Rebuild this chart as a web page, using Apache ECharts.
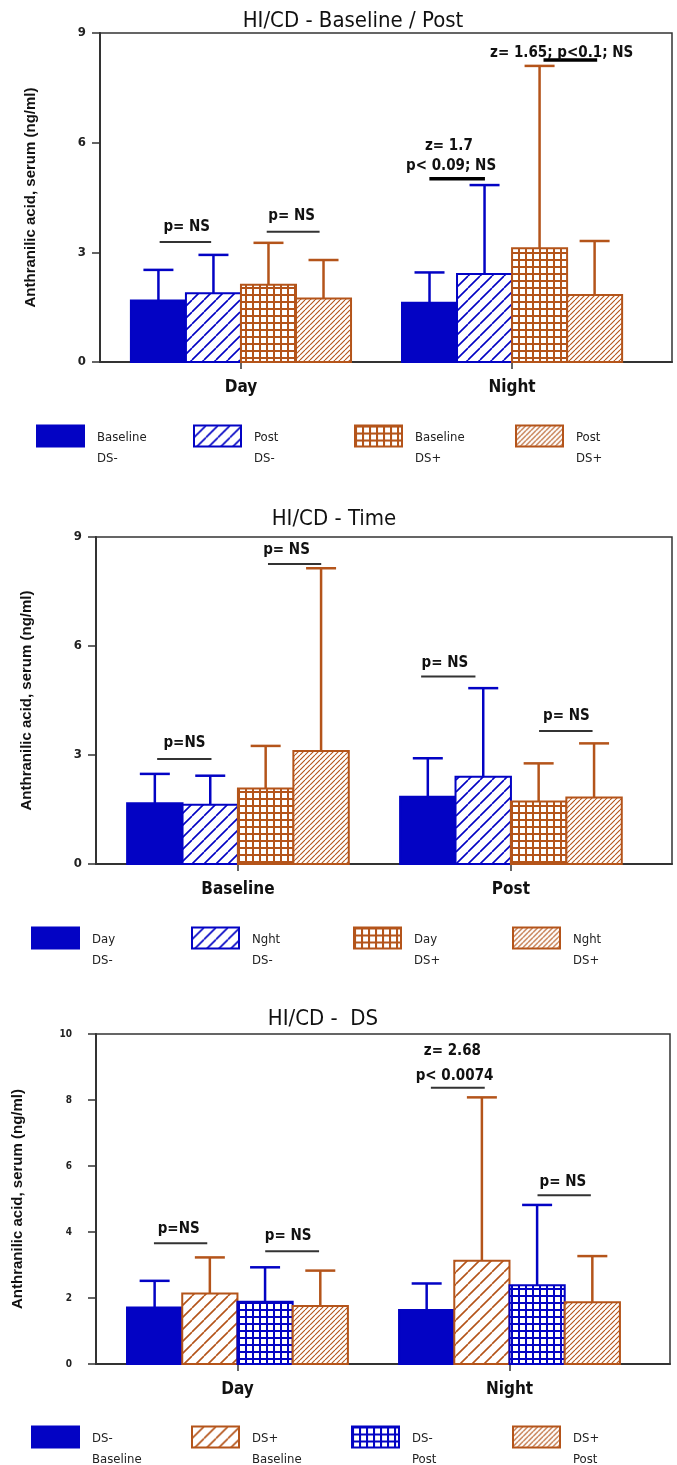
<!DOCTYPE html>
<html>
<head>
<meta charset="utf-8">
<script src="https://cdn.jsdelivr.net/npm/echarts@6/dist/echarts.min.js"></script>
<style>
html, body { margin: 0; padding: 0; background: #fff; }
#chart { width: 677px; height: 1465px; }
</style>
</head>
<body>
<div id="chart"></div>
<script>
// ---- data (ng/ml) ----
var dayNight = ['Day', 'Night'];
var basePost = ['Baseline', 'Post'];

// panel 1: HI/CD - Baseline / Post   (each row = one series, [Day, Night])
var p1Names = ['Baseline\nDS-', 'Post\nDS-', 'Baseline\nDS+', 'Post\nDS+'];
var p1Mean = [[1.68, 1.62], [1.88, 2.41], [2.11, 3.11], [1.74, 1.83]];
var p1Upper = [[2.52, 2.45], [2.93, 4.84], [3.26, 8.10], [2.79, 3.31]];
// significance bars: [from, to, level, thick]
var p1Bars = [[-0.30, -0.11, 3.28, 0], [0.095, 0.29, 3.56, 0], [0.695, 0.90, 5.01, 1], [1.116, 1.314, 8.26, 1]];
var p1Notes = [[-0.20, 3.70, 'p= NS'], [0.187, 3.99, 'p= NS'], [0.767, 5.90, 'z= 1.7'],
               [0.775, 5.35, 'p< 0.09; NS'], [1.183, 8.46, 'z= 1.65; p<0.1; NS']];

// panel 2: HI/CD - Time   ([Baseline, Post])
var p2Names = ['Day\nDS-', 'Nght\nDS-', 'Day\nDS+', 'Nght\nDS+'];
var p2Mean = [[1.67, 1.85], [1.63, 2.40], [2.08, 1.72], [3.11, 1.83]];
var p2Upper = [[2.48, 2.91], [2.43, 4.84], [3.25, 2.77], [8.14, 3.32]];
var p2Bars = [[-0.296, -0.097, 2.89, 0], [0.11, 0.305, 8.26, 0], [0.671, 0.87, 5.16, 0], [1.103, 1.299, 3.66, 0]];
var p2Notes = [[-0.196, 3.32, 'p=NS'], [0.178, 8.64, 'p= NS'], [0.758, 5.54, 'p= NS'], [1.203, 4.07, 'p= NS']];

// panel 3: HI/CD - DS   ([Day, Night])
var p3Names = ['DS-\nBaseline', 'DS+\nBaseline', 'DS-\nPost', 'DS+\nPost'];
var p3Mean = [[1.71, 1.64], [2.14, 3.13], [1.89, 2.39], [1.76, 1.87]];
var p3Upper = [[2.52, 2.44], [3.23, 8.08], [2.93, 4.82], [2.83, 3.27]];
var p3Bars = [[-0.307, -0.111, 3.66, 0], [0.102, 0.30, 3.42, 0], [0.711, 0.909, 8.37, 0], [1.103, 1.299, 5.11, 0]];
var p3Notes = [[-0.216, 4.08, 'p=NS'], [0.186, 3.88, 'p= NS'], [0.79, 9.49, 'z= 2.68'],
               [0.798, 8.71, 'p< 0.0074'], [1.196, 5.52, 'p= NS']];

var yName = 'Anthranilic acid, serum (ng/ml)';

// ---- styles ----
var BLUE = '#0303c4';
var ORANGE = '#b4541a';
var NARROW = "'Liberation Sans Narrow', 'DejaVu Sans Condensed', 'Arial Narrow', sans-serif";
var WIDE = "'Liberation Sans', Arial, sans-serif";
var BAR_W = 0.203;
var CAP = 15;

function hatch(color, step, lw) {
	var c = document.createElement('canvas');
	c.width = c.height = step;
	var g = c.getContext('2d');
	g.fillStyle = '#fff';
	g.fillRect(0, 0, step, step);
	g.strokeStyle = color;
	g.lineWidth = lw;
	g.beginPath();
	for (var k = -1; k <= 1; k++) {
		g.moveTo(k * step, step);
		g.lineTo(k * step + step, 0);
	}
	g.stroke();
	return {image: c, repeat: 'repeat'};
}
function squares(color, step, lw) {
	var c = document.createElement('canvas');
	c.width = c.height = step;
	var g = c.getContext('2d');
	g.fillStyle = '#fff';
	g.fillRect(0, 0, step, step);
	g.fillStyle = color;
	g.fillRect(0, 0, step, lw);
	g.fillRect(0, 0, lw, step);
	return {image: c, repeat: 'repeat'};
}

var solidBlue = BLUE;
var wideBlue = hatch(BLUE, 12, 1.6);
var wideOrange = hatch(ORANGE, 12, 1.6);
var gridOrange = squares(ORANGE, 7, 2);
var gridBlue = squares(BLUE, 7, 2);
var fineOrange = hatch(ORANGE, 5, 1.1);

var panels = [
	{cats: dayNight, names: p1Names, mean: p1Mean, upper: p1Upper, bars: p1Bars, notes: p1Notes,
	 fills: [solidBlue, wideBlue, gridOrange, fineOrange], strokes: [BLUE, BLUE, ORANGE, ORANGE],
	 title: 'HI/CD - Baseline / Post', titleX: 353, titleY: 21,
	 left: 100, top: 33, height: 329, right: 5, yMax: 9, yStep: 3, labelSize: 13, labelMargin: 14, nameGap: 62,
	 legendTop: 403, legendLeft: [36, 193, 354, 515]},
	{cats: basePost, names: p2Names, mean: p2Mean, upper: p2Upper, bars: p2Bars, notes: p2Notes,
	 fills: [solidBlue, wideBlue, gridOrange, fineOrange], strokes: [BLUE, BLUE, ORANGE, ORANGE],
	 title: 'HI/CD - Time', titleX: 334, titleY: 519,
	 left: 96, top: 537, height: 327, right: 5, yMax: 9, yStep: 3, labelSize: 13, labelMargin: 14, nameGap: 62,
	 legendTop: 905, legendLeft: [31, 191, 353, 512]},
	{cats: dayNight, names: p3Names, mean: p3Mean, upper: p3Upper, bars: p3Bars, notes: p3Notes,
	 fills: [solidBlue, wideOrange, gridBlue, fineOrange], strokes: [BLUE, ORANGE, BLUE, ORANGE],
	 title: 'HI/CD -  DS', titleX: 323, titleY: 1019,
	 left: 96, top: 1034, height: 330, right: 7, yMax: 10, yStep: 2, labelSize: 10, labelMargin: 24, nameGap: 71,
	 legendTop: 1404, legendLeft: [31, 191, 351, 512]}
];

function barItem(slot, fill, stroke) {
	return function (params, api) {
		var c = api.value(0) + (slot - 1.5) * BAR_W;
		var a = api.coord([c - BAR_W / 2, 0]);
		var b = api.coord([c + BAR_W / 2, api.value(1)]);
		var e = api.coord([c, api.value(2)]);
		var mid = (a[0] + b[0]) / 2;
		return {
			type: 'group',
			children: [
				{type: 'line', shape: {x1: mid, y1: b[1], x2: mid, y2: e[1]}, style: {stroke: stroke, lineWidth: 2.5}},
				{type: 'line', shape: {x1: mid - CAP, y1: e[1], x2: mid + CAP, y2: e[1]}, style: {stroke: stroke, lineWidth: 2.5}},
				{type: 'rect', shape: {x: a[0], y: b[1], width: b[0] - a[0], height: a[1] - b[1]},
				 style: {fill: fill, stroke: stroke, lineWidth: 2}}
			]
		};
	};
}

var option = {
	animation: false,
	backgroundColor: '#fff',
	grid: [], xAxis: [], yAxis: [], series: [], legend: [], graphic: []
};

panels.forEach(function (P, i) {
	option.grid.push({left: P.left, top: P.top, right: P.right, height: P.height,
		show: true, borderColor: '#333', borderWidth: 1.5});
	option.xAxis.push({
		gridIndex: i, type: 'value', min: -0.52, max: 1.59,
		splitLine: {show: false},
		axisLine: {lineStyle: {color: '#333', width: 2}},
		axisTick: {customValues: [0, 1], length: 7, lineStyle: {color: '#333', width: 1.5}},
		axisLabel: {customValues: [0, 1], margin: 17, color: '#111', fontWeight: 'bold', fontSize: 17,
			fontFamily: NARROW, formatter: function (v) { return P.cats[Math.round(v)]; }}
	});
	option.yAxis.push({
		gridIndex: i, type: 'value', min: 0, max: P.yMax, interval: P.yStep,
		name: yName, nameLocation: 'middle', nameGap: P.nameGap,
		nameTextStyle: {color: '#111', fontWeight: 'bold', fontSize: 15, fontFamily: WIDE},
		splitLine: {show: false},
		axisLine: {onZero: false, lineStyle: {color: '#333', width: 2}},
		axisTick: {length: 8, lineStyle: {color: '#333', width: 1.5}},
		axisLabel: {margin: P.labelMargin, color: '#222', fontWeight: 'bold', fontSize: P.labelSize, fontFamily: NARROW}
	});
	P.names.forEach(function (name, s) {
		option.series.push({
			type: 'custom', name: name, xAxisIndex: i, yAxisIndex: i,
			itemStyle: {color: P.fills[s], borderColor: P.strokes[s], borderWidth: 2},
			data: P.cats.map(function (c, k) { return [k, P.mean[s][k], P.upper[s][k]]; }),
			renderItem: barItem(s, P.fills[s], P.strokes[s])
		});
		option.legend.push({
			data: [name], left: P.legendLeft[s], top: P.legendTop, padding: 0,
			icon: 'rect', itemWidth: 47, itemHeight: 21, selectedMode: false,
			itemStyle: {color: P.fills[s], borderColor: P.strokes[s], borderWidth: 2},
			formatter: function (n) { return '{gap|}\n' + n; },
			textStyle: {color: '#222', fontSize: 13, fontFamily: NARROW, lineHeight: 21, padding: [0, 0, 0, 8],
				rich: {gap: {lineHeight: 24, fontSize: 13}}}
		});
	});
	option.series.push({
		type: 'custom', xAxisIndex: i, yAxisIndex: i, silent: true,
		data: P.bars.map(function (b) { return [b[0], b[2]]; }),
		renderItem: function (params, api) {
			var b = P.bars[params.dataIndex];
			var p = api.coord([b[0], b[2]]);
			var q = api.coord([b[1], b[2]]);
			return {type: 'line', shape: {x1: p[0], y1: p[1], x2: q[0], y2: p[1]},
				style: {stroke: b[3] ? '#000' : '#333', lineWidth: b[3] ? 3.5 : 2}};
		}
	});
	option.series.push({
		type: 'custom', xAxisIndex: i, yAxisIndex: i, silent: true,
		data: P.notes.map(function (n) { return [n[0], n[1]]; }),
		renderItem: function (params, api) {
			var n = P.notes[params.dataIndex];
			var p = api.coord([n[0], n[1]]);
			return {type: 'text', x: p[0], y: p[1],
				style: {text: n[2], align: 'center', verticalAlign: 'middle', fill: '#111',
					font: 'bold 15px ' + NARROW}};
		}
	});
	option.graphic.push({type: 'text', x: P.titleX, y: P.titleY,
		style: {text: P.title, align: 'center', verticalAlign: 'middle', fill: '#111',
			font: '22px ' + NARROW}});
});

var chart = echarts.init(document.getElementById('chart'), null, {renderer: 'canvas'});
chart.setOption(option);
</script>
</body>
</html>
